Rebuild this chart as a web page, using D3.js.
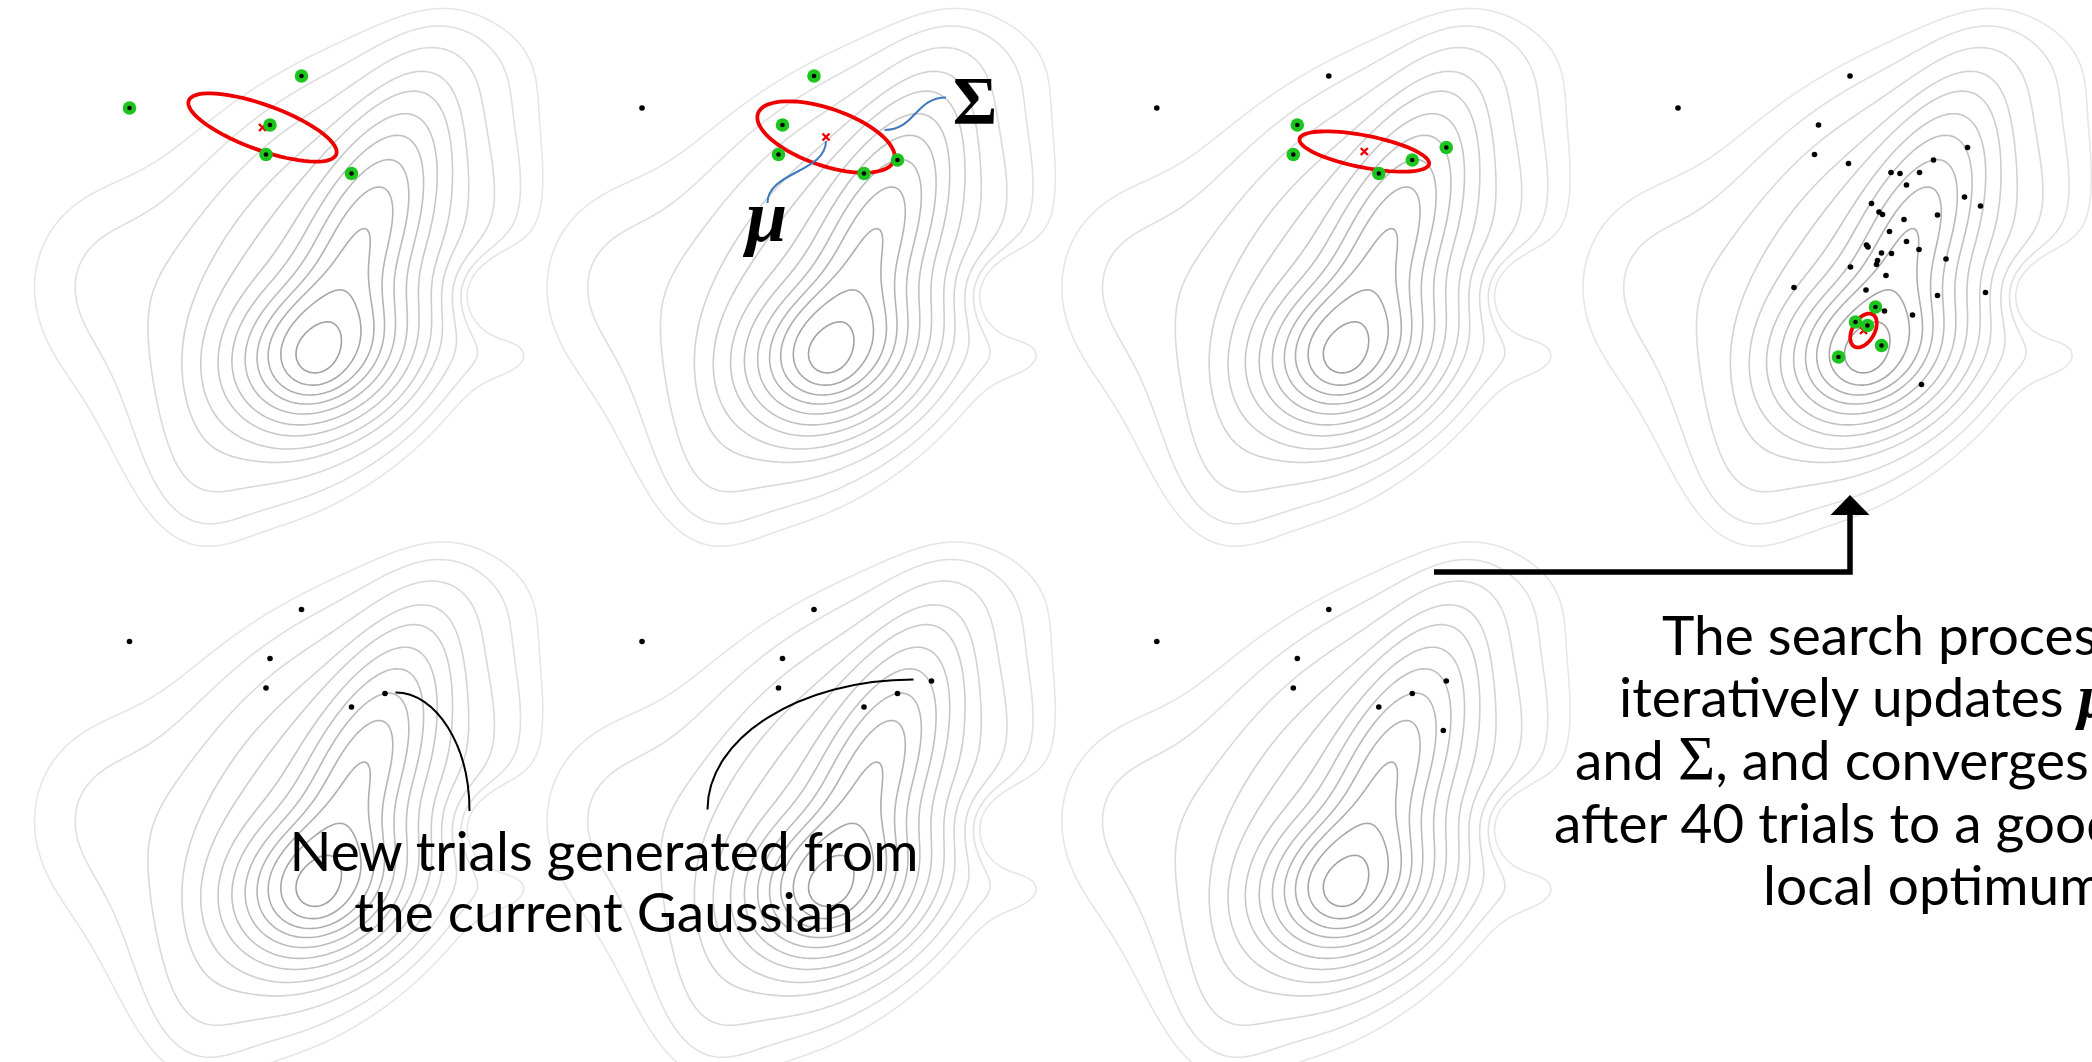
<!DOCTYPE html>
<html>
<head>
<meta charset="utf-8">
<script src="https://cdn.jsdelivr.net/npm/d3@7"></script>
<style>
  body { margin: 0; background: #fff; }
  svg { display: block; }
</style>
</head>
<body>
<svg id="chart" width="2092" height="1062"></svg>
<script>
// objective landscape, as a sum of gaussian bumps (u, v in search-space units)
const bumpU     = [63.0, 64.0, 72.0, 67.0, 55.0, 97.0, 103.0, 40.0, 94.0, 18.0];
const bumpV     = [28.0, 30.0, 51.5, 43.0, 47.0, 42.0, 29.5, 5.0, 88.0, 45.0];
const bumpSU    = [3.2, 9.5, 16.0, 25.0, 38.0, 8.0, 7.0, 7.0, 12.0, 12.0];
const bumpSV    = [3.2, 7.5, 6.0, 15.0, 28.0, 6.0, 5.5, 11.0, 8.0, 14.0];
const bumpAngle = [0, 25, 67, 57, 35, 0, 0, 0, 0, 0];
const bumpW     = [0.25, 1.0, 0.55, 0.2, 0.045, -0.055, 0.018, 0.02, 0.015, 0.02];

// where the 12 contour levels (innermost first) cross the line v = 30.2
const levelV = 30.2;
const levelLeftU  = [58.9, 55.6, 53.2, 51.1, 49.0, 46.8, 44.6, 41.8, 38.6, 32.4, 23.4, 13.0];
const levelRightU = [67.6, 70.9, 73.6, 75.8, 78.2, 80.9, 83.7, 86.8, 89.5, 92.6, 98.5, 106.6];

// trials, in the order they were evaluated
const trialU = [25.9, 60.3, 54.0, 53.2, 70.3, 77.0, 83.8, 83.2,
  60.0, 68.5, 74.2, 71.6, 86.4, 64.6, 66.1, 66.8, 71.1, 77.8, 68.2, 63.6, 63.9,
  71.6, 74.1, 66.6, 68.6, 65.8, 65.6, 79.5, 60.4, 67.5, 49.1, 63.5, 77.8, 87.4,
  67.2, 72.8, 74.6,
  65.4, 61.4, 63.8, 66.6, 58.0];
const trialV = [78.4, 84.8, 75.0, 69.1, 65.3, 68.0, 70.5, 60.6,
  67.3, 65.5, 65.5, 63.0, 58.8, 59.3, 57.6, 57.1, 56.1, 57.0, 53.7, 51.0, 50.6,
  51.7, 50.1, 49.4, 49.3, 47.9, 47.1, 48.2, 46.6, 44.9, 42.5, 42.0, 40.9, 41.5,
  37.8, 37.0, 23.1,
  38.6, 35.6, 34.9, 30.9, 28.6];

// search distribution per snapshot: mean, semi-axes and tilt of the 1-sigma ellipse
const meanU  = [52.5, 62.7, 67.4, 63.0];
const meanV  = [74.5, 72.6, 69.7, 33.9];
const axisA  = [15.7, 14.4, 13.2, 3.7];
const axisB  = [4.5, 5.7, 3.2, 2.2];
const axisAngle = [-20, -19, -11, 60];

// snapshots: trials shown, best trials kept, distribution drawn
const shownCount = [5, 6, 7, 42, 6, 7, 8];
const bestStart  = [0, 1, 2, 37, null, null, null];
const distIndex  = [0, 1, 2, 3, null, null, null];

const svg = d3.select("#chart");
const unit = 5;
const x = d3.scaleLinear().domain([0, 100]).range([0, 100 * unit]);
const y = d3.scaleLinear().domain([0, 100]).range([100 * unit, 0]);

const origins = [[0, 0], [512.5, 0], [1027.3, 0], [1548.5, 0],
                 [0, 533.5], [512.5, 533.5], [1027.3, 533.5]];

function landscape(u, v) {
  let s = 0;
  for (let i = 0; i < bumpU.length; i++) {
    const a = bumpAngle[i] * Math.PI / 180;
    const du = u - bumpU[i], dv = v - bumpV[i];
    const p = du * Math.cos(a) + dv * Math.sin(a);
    const q = -du * Math.sin(a) + dv * Math.cos(a);
    s += bumpW[i] * Math.exp(-0.5 * (p * p / (bumpSU[i] * bumpSU[i]) + q * q / (bumpSV[i] * bumpSV[i])));
  }
  return s;
}

// sample the landscape on a grid
const step = 0.5, u0 = -20, vTop = 120;
const n = 300, m = 300;
const values = new Float64Array(n * m);
for (let j = 0; j < m; j++)
  for (let i = 0; i < n; i++)
    values[i + j * n] = landscape(u0 + i * step, vTop - j * step);

// each level sits halfway between the values read on both sides of the optimum
const thresholds = levelLeftU
  .map((u, i) => (landscape(u, levelV) + landscape(levelRightU[i], levelV)) / 2)
  .sort((a, b) => a - b);
const contours = d3.contours().size([n, m]).thresholds(thresholds)(values);

const path = d3.geoPath(d3.geoTransform({
  point(px, py) {
    this.stream.point(x(u0 + (px - 0.5) * step), y(vTop - (py - 0.5) * step));
  }
}));
const grey = d3.scaleLinear().domain([0, thresholds.length - 1]).range(["#e6e6e6", "#a2a2a2"]);

const line = d3.line().x(d => x(d[0])).y(d => y(d[1])).curve(d3.curveLinearClosed);

function ellipse(k) {
  const a = axisAngle[k] * Math.PI / 180;
  return d3.range(0, 72).map(i => {
    const t = i / 72 * 2 * Math.PI;
    const p = axisA[k] * Math.cos(t), q = axisB[k] * Math.sin(t);
    return [meanU[k] + p * Math.cos(a) - q * Math.sin(a),
            meanV[k] + p * Math.sin(a) + q * Math.cos(a)];
  });
}

origins.forEach((o, k) => {
  const g = svg.append("g").attr("transform", `translate(${o[0]},${o[1]})`);

  g.append("g").selectAll("path")
    .data(contours)
    .join("path")
      .attr("d", path)
      .attr("fill", "none")
      .attr("stroke", (d, i) => grey(i))
      .attr("stroke-width", 1.6);

  const trials = d3.range(shownCount[k]).map(i => [trialU[i], trialV[i]]);

  if (distIndex[k] !== null) {
    const e = distIndex[k];
    g.append("path")
      .attr("d", line(ellipse(e)))
      .attr("fill", "none")
      .attr("stroke", "#ee0000")
      .attr("stroke-width", 3.8);
    const cx = x(meanU[e]), cy = y(meanV[e]);
    g.append("path")
      .attr("d", `M${cx - 3.5},${cy - 3.5}L${cx + 3.5},${cy + 3.5}M${cx - 3.5},${cy + 3.5}L${cx + 3.5},${cy - 3.5}`)
      .attr("stroke", "#ee0000")
      .attr("stroke-width", 2.4);
  }

  const bestSet = bestStart[k] === null ? [] : d3.range(bestStart[k], bestStart[k] + 5);

  g.append("g").selectAll("circle.best")
    .data(bestSet)
    .join("circle")
      .attr("cx", i => x(trialU[i]))
      .attr("cy", i => y(trialV[i]))
      .attr("r", 6.8)
      .attr("fill", "#1ec41e");

  g.append("g").selectAll("circle.trial")
    .data(trials)
    .join("circle")
      .attr("cx", d => x(d[0]))
      .attr("cy", d => y(d[1]))
      .attr("r", (d, i) => bestSet.includes(i) ? 2.3 : 2.8)
      .attr("fill", "#000");
});

// annotations on the second snapshot
const ann = svg.append("g").attr("transform", `translate(${origins[1][0]},${origins[1][1]})`);
const sigmaFrom = [74.4, 74.0], sigmaTo = [86.7, 80.5];
const muFrom = [62.7, 71.8], muTo = [51.0, 59.4];
{
  const sx = x(sigmaFrom[0]), sy = y(sigmaFrom[1]), ex = x(sigmaTo[0]), ey = y(sigmaTo[1]);
  const mx = (sx + ex) / 2;
  ann.append("path")
    .attr("d", `M${sx},${sy}C${mx},${sy} ${mx},${ey} ${ex},${ey}`)
    .attr("fill", "none").attr("stroke", "#3f78bd").attr("stroke-width", 2);
  const a = x(muFrom[0]), b = y(muFrom[1]), c = x(muTo[0]), d = y(muTo[1]);
  const my = (b + d) / 2;
  ann.append("path")
    .attr("d", `M${a},${b}C${a},${my} ${c},${my} ${c},${d}`)
    .attr("fill", "none").attr("stroke", "#3f78bd").attr("stroke-width", 2);
}
const serif = "'Liberation Serif', 'DejaVu Serif', serif";
ann.append("text")
  .attr("x", x(92.5)).attr("y", y(75.5))
  .attr("text-anchor", "middle")
  .style("font-family", serif)
  .style("font-weight", "bold")
  .style("font-size", "68px")
  .text("Σ");
ann.append("text")
  .attr("x", x(50.8)).attr("y", y(51.8))
  .attr("text-anchor", "middle")
  .style("font-family", serif)
  .style("font-weight", "bold")
  .style("font-style", "italic")
  .style("font-size", "74px")
  .text("μ");

// leader curves on the lower row
function arcCurve(o, from, to) {
  const sx = x(from[0]) + o[0], sy = y(from[1]) + o[1];
  const ex = x(to[0]) + o[0], ey = y(to[1]) + o[1];
  const k = 0.5523;
  return `M${sx},${sy}C${sx + k * (ex - sx)},${sy} ${ex},${ey - k * (ey - sy)} ${ex},${ey}`;
}
svg.append("path")
  .attr("d", arcCurve(origins[4], [79.1, 68.2], [93.9, 44.5]))
  .attr("fill", "none").attr("stroke", "#000").attr("stroke-width", 2);
svg.append("path")
  .attr("d", arcCurve(origins[5], [80.2, 70.8], [39.0, 44.8]))
  .attr("fill", "none").attr("stroke", "#000").attr("stroke-width", 2);

const sans = "Lato, 'Open Sans', sans-serif";
const leftText = svg.append("text")
  .attr("text-anchor", "middle")
  .style("font-family", sans)
  .style("font-size", "55px")
  .attr("fill", "#000");
leftText.append("tspan").attr("x", 604).attr("y", 871).text("New trials generated from");
leftText.append("tspan").attr("x", 604).attr("y", 932).text("the current Gaussian");

const rightText = svg.append("text")
  .style("font-family", sans)
  .style("font-size", "55px")
  .attr("fill", "#000");
rightText.append("tspan").attr("x", 1662).attr("y", 655).text("The search process");
const l2 = rightText.append("tspan").attr("x", 1619).attr("y", 717);
l2.append("tspan").text("iteratively updates ");
l2.append("tspan").style("font-family", serif).style("font-weight", "bold")
  .style("font-style", "italic").style("font-size", "62px").text("μ");
const l3 = rightText.append("tspan").attr("x", 1575).attr("y", 780);
l3.append("tspan").text("and ");
l3.append("tspan").style("font-family", serif).style("font-size", "64px").text("Σ");
l3.append("tspan").text(", and converges");
rightText.append("tspan").attr("x", 1554).attr("y", 843).text("after 40 trials to a good");
rightText.append("tspan").attr("x", 1763).attr("y", 905).text("local optimum");

// arrow from the lower row up to the final snapshot
svg.append("path")
  .attr("d", "M1434,572H1850V514")
  .attr("fill", "none").attr("stroke", "#000").attr("stroke-width", 5.5);
svg.append("path")
  .attr("d", "M1830.5,515L1869.5,515L1850,495Z")
  .attr("fill", "#000");
</script>
</body>
</html>
